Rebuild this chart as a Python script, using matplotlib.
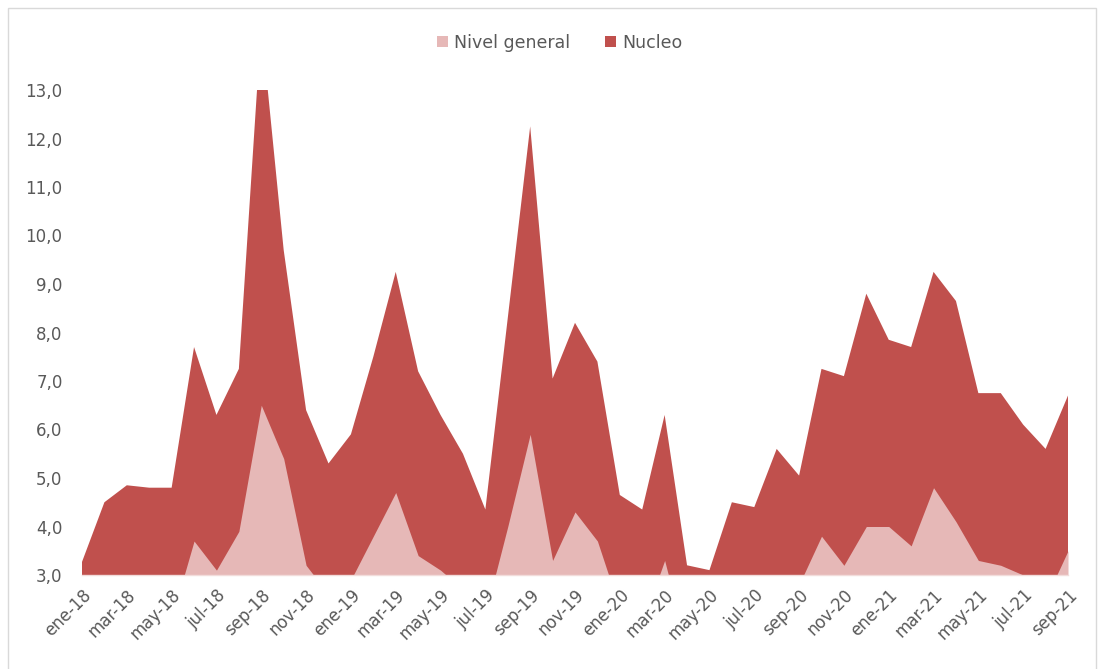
import matplotlib
matplotlib.use("Agg")
import matplotlib.pyplot as plt
from matplotlib.patches import Rectangle, Patch
import numpy as np

# Monthly series, ene-18 .. sep-21
months = [
    "ene-18", "feb-18", "mar-18", "abr-18", "may-18", "jun-18", "jul-18", "ago-18", "sep-18", "oct-18", "nov-18", "dic-18",
    "ene-19", "feb-19", "mar-19", "abr-19", "may-19", "jun-19", "jul-19", "ago-19", "sep-19", "oct-19", "nov-19", "dic-19",
    "ene-20", "feb-20", "mar-20", "abr-20", "may-20", "jun-20", "jul-20", "ago-20", "sep-20", "oct-20", "nov-20", "dic-20",
    "ene-21", "feb-21", "mar-21", "abr-21", "may-21", "jun-21", "jul-21", "ago-21", "sep-21",
]
tick_labels = [
    "ene-18", "mar-18", "may-18", "jul-18", "sep-18", "nov-18",
    "ene-19", "mar-19", "may-19", "jul-19", "sep-19", "nov-19",
    "ene-20", "mar-20", "may-20", "jul-20", "sep-20", "nov-20",
    "ene-21", "mar-21", "may-21", "jul-21", "sep-21",
]
nivel_general = [
    1.8, 2.4, 2.3, 2.7, 2.1, 3.7, 3.1, 3.9, 6.5, 5.4, 3.2, 2.6,
    2.9, 3.8, 4.7, 3.4, 3.1, 2.7, 2.2, 4.0, 5.9, 3.3, 4.3, 3.7,
    2.3, 2.0, 3.3, 1.5, 1.5, 2.2, 1.9, 2.7, 2.8, 3.8, 3.2, 4.0,
    4.0, 3.6, 4.8, 4.1, 3.3, 3.2, 3.0, 2.5, 3.5,
]
nucleo = [
    3.27, 4.5, 4.85, 4.8, 4.8, 7.7, 6.3, 7.25, 14.35, 9.7, 6.4, 5.3,
    5.9, 7.5, 9.25, 7.2, 6.3, 5.5, 4.35, 8.3, 12.25, 7.05, 8.2, 7.4,
    4.65, 4.35, 6.3, 3.2, 3.1, 4.5, 4.4, 5.6, 5.05, 7.25, 7.1, 8.8,
    7.85, 7.7, 9.25, 8.65, 6.75, 6.75, 6.1, 5.6, 6.7,
]

DARK = "#C0504D"
LIGHT = "#E6B8B7"
TEXT = "#595959"

plt.rcParams["font.family"] = ["DejaVu Sans"]

W, H = 1103, 669
fig = plt.figure(figsize=(W / 100, H / 100), dpi=100)
ax = fig.add_axes([82 / W, 1 - 575 / H, (1068 - 82) / W, (575 - 90) / H])

x = np.arange(len(months))
ax.fill_between(x, nucleo, 0, color=DARK, linewidth=0, zorder=2)
ax.fill_between(x, nivel_general, 0, color=LIGHT, linewidth=0, zorder=3)

ax.set_xlim(0, len(months) - 1)
ax.set_ylim(3, 13)

ax.set_yticks(np.arange(3, 14, 1))
ax.set_yticklabels([f"{v:.1f}".replace(".", ",") for v in np.arange(3, 14, 1)],
                   fontsize=12, color=TEXT)
ax.set_xticks(np.arange(0, len(months), 2))
ax.set_xticklabels(tick_labels, rotation=45, ha="right", va="top",
                   rotation_mode="anchor", fontsize=12, color=TEXT)
ax.tick_params(axis="both", length=0)
ax.tick_params(axis="y", pad=14)
ax.tick_params(axis="x", pad=8)

for side in ("top", "right", "left"):
    ax.spines[side].set_visible(False)
ax.spines["bottom"].set_color("#F2DCDB")
ax.spines["bottom"].set_linewidth(1.0)
ax.spines["bottom"].set_zorder(4)

handles = [Patch(facecolor=LIGHT, edgecolor="none", label="Nivel general"),
           Patch(facecolor=DARK, edgecolor="none", label="Nucleo")]
fig.legend(handles=handles, loc="center", bbox_to_anchor=(560 / W, 1 - 43 / H),
           ncol=2, frameon=False, fontsize=12.5, labelcolor=TEXT,
           handlelength=0.6, handleheight=0.6, handletextpad=0.4, columnspacing=2.0)

# chart frame
fig.patches.append(Rectangle((8 / W, -0.05), (1096 - 8) / W, 1.05 - 8 / H,
                             transform=fig.transFigure, fill=False,
                             edgecolor="#D9D9D9", linewidth=1.0))

fig.savefig("out.png", dpi=100, facecolor="white")
